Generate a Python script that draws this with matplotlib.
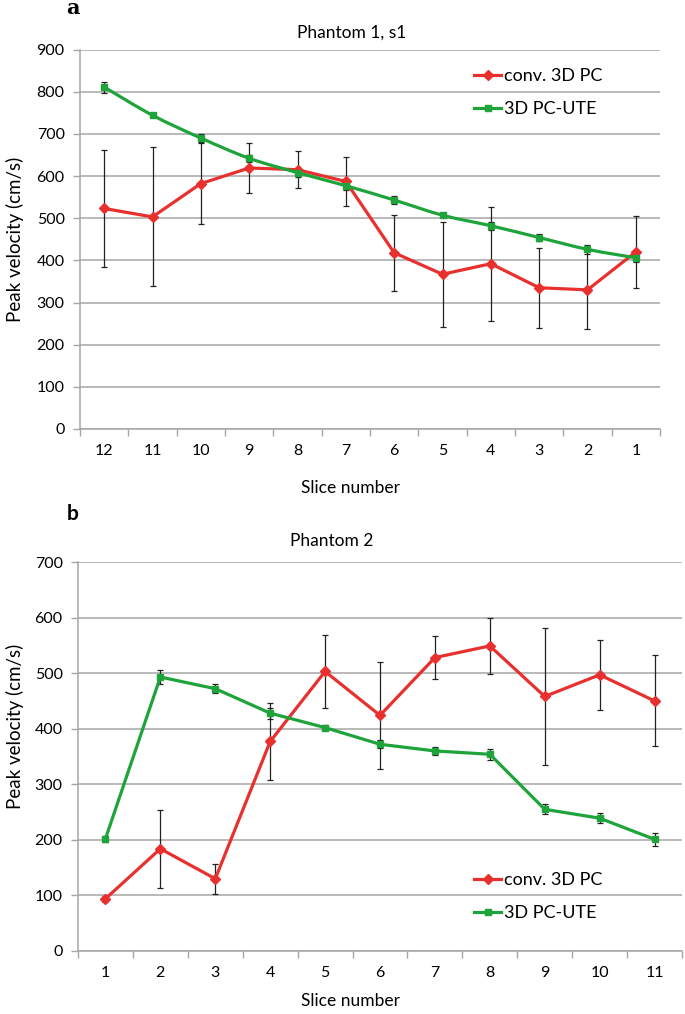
import numpy as np
import matplotlib
matplotlib.use("Agg")
import matplotlib.pyplot as plt
from matplotlib.path import Path
from matplotlib.patches import PathPatch
from matplotlib.lines import Line2D

plt.rcParams['font.family'] = ['Lato', 'DejaVu Sans']

# panel a: Phantom 1, s1
slices_a = ['12', '11', '10', '9', '8', '7', '6', '5', '4', '3', '2', '1']
conv_a = [523, 503, 582, 619, 615, 587, 418, 367, 392, 335, 330, 420]
conv_a_err = [139, 165, 97, 59, 44, 58, 90, 125, 135, 95, 93, 86]
ute_a = [811, 744, 690, 642, 608, 577, 543, 507, 482, 454, 426, 406]
ute_a_err = [13, 5, 9, 8, 10, 10, 10, 5, 10, 9, 10, 10]

# panel b: Phantom 2
slices_b = ['1', '2', '3', '4', '5', '6', '7', '8', '9', '10', '11']
conv_b = [94, 184, 130, 377, 503, 424, 528, 549, 458, 497, 450]
conv_b_err = [5, 70, 27, 70, 65, 96, 39, 51, 124, 63, 82]
ute_b = [202, 493, 472, 428, 402, 372, 360, 354, 255, 239, 201]
ute_b_err = [5, 12, 8, 10, 5, 7, 7, 10, 9, 9, 12]

RED = '#E8312F'
GREEN = '#1FA33B'
GRID = '#A6A6A6'
W, H = 685, 1014


def smooth_path(x, y):
    # excel style smoothed line: cubic bezier through the data points
    x = np.asarray(x, float)
    y = np.asarray(y, float)
    pts = np.column_stack([x, y])
    verts = [pts[0]]
    codes = [Path.MOVETO]
    n = len(pts)
    for i in range(n - 1):
        p0 = pts[max(i - 1, 0)]
        p1 = pts[i]
        p2 = pts[i + 1]
        p3 = pts[min(i + 2, n - 1)]
        verts += [p1 + (p2 - p0) / 6, p2 - (p3 - p1) / 6, p2]
        codes += [Path.CURVE4] * 3
    return Path(verts, codes)


def style_axes(ax, labels, ymax):
    n = len(labels)
    ax.set_xlim(-0.5, n - 0.5)
    ax.set_ylim(0, ymax)
    ax.set_yticks(np.arange(0, ymax + 1, 100))
    ax.yaxis.grid(True, color=GRID, lw=1.1)
    ax.set_axisbelow(True)
    ax.set_xticks(np.arange(n))
    ax.set_xticklabels(labels)
    ax.set_xticks(np.arange(n + 1) - 0.5, minor=True)
    ax.tick_params(axis='x', which='major', length=0, pad=11, labelsize=11.5)
    ax.tick_params(axis='x', which='minor', length=5, color=GRID, width=1)
    ax.tick_params(axis='y', length=5, color=GRID, width=1, labelsize=11.5, pad=6)
    for s in ['top', 'right']:
        ax.spines[s].set_visible(False)
    for s in ['left', 'bottom']:
        ax.spines[s].set_color(GRID)
        ax.spines[s].set_linewidth(1.1)


def draw(ax, conv, conv_err, ute, ute_err, smooth_ute):
    x = np.arange(len(conv))
    ax.errorbar(x, conv, yerr=conv_err, fmt='none', ecolor='#222222',
                elinewidth=0.9, capsize=2.5, capthick=0.9, zorder=3)
    ax.errorbar(x, ute, yerr=ute_err, fmt='none', ecolor='#222222',
                elinewidth=0.9, capsize=2.5, capthick=0.9, zorder=3)
    ax.plot(x, conv, color=RED, lw=2.3, marker='D', ms=5, zorder=4)
    if smooth_ute:
        ax.add_patch(PathPatch(smooth_path(x, ute), fill=False,
                               edgecolor=GREEN, lw=2.3, zorder=4))
        ax.plot(x, ute, ls='none', marker='s', ms=5, color=GREEN, zorder=5)
    else:
        ax.plot(x, ute, color=GREEN, lw=2.3, marker='s', ms=5, zorder=4)


fig = plt.figure(figsize=(W / 100, H / 100), dpi=100)

ax1 = fig.add_axes([80 / W, 1 - 429 / H, 580 / W, 379.5 / H])
style_axes(ax1, slices_a, 900)
draw(ax1, conv_a, conv_a_err, ute_a, ute_a_err, True)

ax2 = fig.add_axes([78 / W, 1 - 951 / H, 604 / W, 389 / H])
style_axes(ax2, slices_b, 700)
draw(ax2, conv_b, conv_b_err, ute_b, ute_b_err, False)

handles = [Line2D([], [], color=RED, lw=2.3, marker='D', ms=5),
           Line2D([], [], color=GREEN, lw=2.3, marker='s', ms=5)]
names = ['conv. 3D PC', '3D PC-UTE']
for top in [68, 872]:
    fig.legend(handles, names, loc='upper left',
               bbox_to_anchor=(474 / W, 1 - top / H), frameon=False,
               fontsize=13, handlelength=1.5, handletextpad=0.15,
               labelspacing=0.95, borderpad=0, borderaxespad=0)

fig.text(352 / W, 1 - 33 / H, 'Phantom 1, s1', ha='center', va='center', fontsize=12.5)
fig.text(332 / W, 1 - 541 / H, 'Phantom 2', ha='center', va='center', fontsize=12.5)
fig.text(350 / W, 1 - 488 / H, 'Slice number', ha='center', va='center', fontsize=12.5)
fig.text(350 / W, 1 - 1001 / H, 'Slice number', ha='center', va='center', fontsize=12.5)
fig.text(15 / W, 1 - 239 / H, 'Peak velocity (cm/s)', ha='center', va='center',
         rotation=90, fontsize=13.5)
fig.text(15 / W, 1 - 726 / H, 'Peak velocity (cm/s)', ha='center', va='center',
         rotation=90, fontsize=13.5)
fig.text(73 / W, 1 - 8 / H, 'a', ha='center', va='center', fontsize=15,
         fontweight='bold', family='DejaVu Serif')
fig.text(73 / W, 1 - 514 / H, 'b', ha='center', va='center', fontsize=15,
         fontweight='bold')

fig.savefig('out.png', dpi=100)
